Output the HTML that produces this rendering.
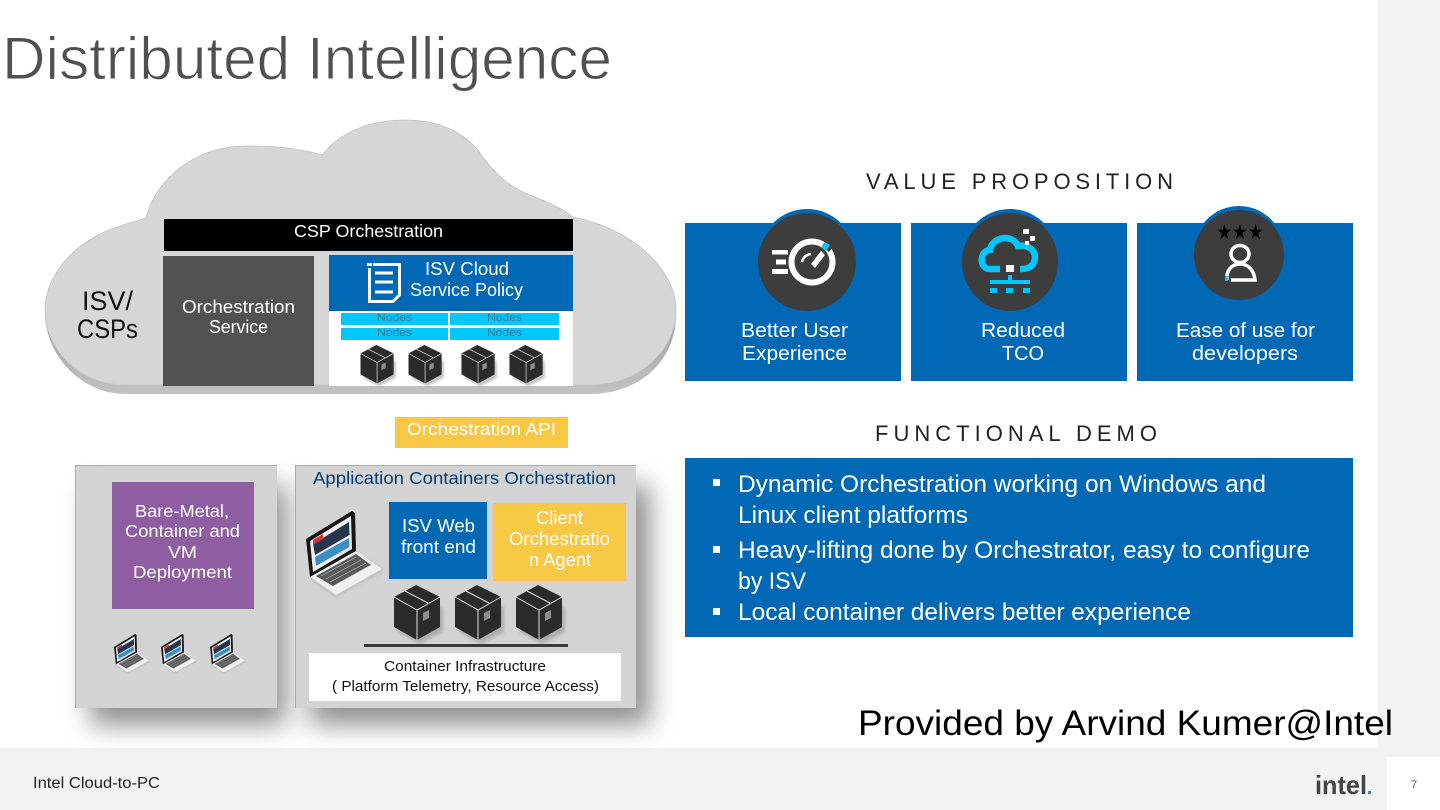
<!DOCTYPE html>
<html><head><meta charset="utf-8"><style>
html,body{margin:0;padding:0;background:#fff;width:1440px;height:810px;overflow:hidden}
svg{display:block}
text{font-family:"Liberation Sans",sans-serif}
</style></head><body>
<svg width="1440" height="810" viewBox="0 0 1440 810" xmlns="http://www.w3.org/2000/svg">
<defs>
<filter id="b" x="-40%" y="-40%" width="180%" height="180%"><feGaussianBlur stdDeviation="13"/></filter>
<filter id="s" x="-30%" y="-30%" width="160%" height="160%"><feGaussianBlur stdDeviation="1.5"/></filter>
<linearGradient id="ex" x1="0" y1="0" x2="0" y2="1"><stop offset="0" stop-color="#a0a0a0"/><stop offset="1" stop-color="#c2c2c2"/></linearGradient>
<g id="cube">
<path d="M3 17 23 27 43 17 46 20V44L23 56 1 44V20Z" fill="#888" opacity=".5" transform="translate(3 3)" filter="url(#s)"/>
<path d="M22 0 46 12V42L23 55 0 42V12Z" fill="#2b2b2b"/>
<path d="M0 12 23 25 46 12M23 25V55M11 6 34 18" fill="none" stroke="#e0e0e0" stroke-width="1"/>
<path d="M29 28 35 25V33L29 36Z" fill="#8e8e8e"/>
</g>
<g id="laptop">
<path d="M8 70 60 48 78 60 30 84Z" fill="#aaa" opacity=".7" filter="url(#s)"/>
<path d="M0 28 46 0 49 2 50 40 4 66Z" fill="#161616"/>
<path d="M4 30 45 5 46 38 7 61Z" fill="#efefef"/>
<path d="M7 33 43 11 43.500 24 9 44Z" fill="#27364f"/>
<path d="M9 46 43 27 43.500 36 10 55Z" fill="#3b8fc4"/>
<path d="M7 29 17 23 17 28 7 34Z" fill="#d8352f"/>
<path d="M4 66 50 40 76 58 30 84Z" fill="#f0f0f0"/>
<path d="M10 65 50 43 65 54 27 75Z" fill="#5a5a5a"/>
<path d="M15 65 50 46M20 68 55 49M24 71 60 52M29 74 63 55" stroke="#bdbdbd" stroke-width=".7" fill="none"/>
<path d="M4 66 30 84 76 58 76 60 30 87 4 69Z" fill="#c4c4c4"/>
</g>
</defs>

<!-- sidebar & footer -->
<rect x="1378" y="0" width="62" height="810" fill="#f2f2f2"/>
<rect x="0" y="748" width="1440" height="62" fill="#f2f2f2"/>
<rect x="1387" y="757" width="53" height="53" fill="#fff"/>

<text x="2" y="79" font-size="60" fill="#505050" stroke="#fff" stroke-width="1" textLength="610" lengthAdjust="spacingAndGlyphs">Distributed Intelligence</text>

<!-- cloud -->
<path d="M45 315C47 360 85 394 125 394H590C640 394 676 360 676 315Z" fill="url(#ex)"/>
<path d="M45 310C45 275 75 240 120 226C128 223 137 221 146 218C155 180 195 146 245 146C275 146 300 148 322 155C340 132 370 120 405 120C440 120 462 132 478 150C495 175 510 188 535 197C550 203 565 210 573 217C630 228 676 268 676 310C676 350 640 385 590 385H125C80 385 45 350 45 310Z" fill="#d6d6d6" stroke="#c4c4c4" stroke-width=".8"/>

<rect x="164" y="219" width="409" height="32" fill="#000"/>
<text x="294" y="237" font-size="17.500" fill="#fff" textLength="149" lengthAdjust="spacingAndGlyphs">CSP Orchestration</text>
<rect x="163" y="256" width="151" height="130" fill="#525252"/>
<text x="182" y="313" font-size="18" fill="#fff" textLength="113" lengthAdjust="spacingAndGlyphs">Orchestration</text>
<text x="209" y="333" font-size="18" fill="#fff" textLength="59" lengthAdjust="spacingAndGlyphs">Service</text>
<text x="82" y="310" font-size="27" fill="#111" textLength="51" lengthAdjust="spacingAndGlyphs">ISV/</text>
<text x="77" y="338" font-size="27" fill="#111" textLength="61" lengthAdjust="spacingAndGlyphs">CSPs</text>

<rect x="329" y="255" width="244" height="56" fill="#0068b5"/>
<rect x="329" y="311" width="244" height="75" fill="#fff"/>
<path d="M369.500 268V301.500H393L399.500 295V264.500H373" fill="none" stroke="#fff" stroke-width="3"/>
<path d="M367 263h5v3h-5zM375 271.500h18v3h-18zM375 280.500h18v3h-18zM375 290.500h18v3h-18z" fill="#fff"/>
<text x="425" y="275" font-size="18" fill="#fff" textLength="84" lengthAdjust="spacingAndGlyphs">ISV  Cloud</text>
<text x="410" y="296" font-size="18" fill="#fff" textLength="113" lengthAdjust="spacingAndGlyphs">Service Policy</text>
<g fill="#00c7fd">
<rect x="341" y="313" width="107" height="12"/><rect x="450" y="313" width="109" height="12"/>
<rect x="341" y="328" width="107" height="12"/><rect x="450" y="328" width="109" height="12"/>
</g>
<g font-size="11" fill="#3c7a90">
<text x="377" y="321" textLength="35" lengthAdjust="spacingAndGlyphs">Nodes</text>
<text x="487" y="321" textLength="35" lengthAdjust="spacingAndGlyphs">Nodes</text>
<text x="377" y="336" textLength="35" lengthAdjust="spacingAndGlyphs">Nodes</text>
<text x="487" y="336" textLength="35" lengthAdjust="spacingAndGlyphs">Nodes</text>
</g>
<use href="#cube" transform="translate(360.500 345) scale(.72 .7)"/>
<use href="#cube" transform="translate(408.500 345) scale(.72 .7)"/>
<use href="#cube" transform="translate(461.500 345) scale(.72 .7)"/>
<use href="#cube" transform="translate(509.500 345) scale(.72 .7)"/>

<!-- API -->
<rect x="395" y="417" width="173" height="31" fill="#f6c844"/>
<text x="407" y="435" font-size="17.500" fill="#fff" textLength="149" lengthAdjust="spacingAndGlyphs">Orchestration  API</text>

<!-- panels -->
<rect x="90" y="485" width="196" height="240" fill="#444" opacity=".6" filter="url(#b)"/>
<rect x="310" y="485" width="340" height="240" fill="#444" opacity=".6" filter="url(#b)"/>
<rect x="75" y="465" width="202" height="243" fill="#d3d3d3"/>
<rect x="295" y="465" width="341" height="243" fill="#d3d3d3"/>
<path d="M75.500 708V465.500H277M295.500 708V465.500H636" fill="none" stroke="#aaa" stroke-width="1"/>

<rect x="112" y="482" width="142" height="127" fill="#8f5da2"/>
<g font-size="17.500" fill="#fff">
<text x="135" y="517" textLength="94" lengthAdjust="spacingAndGlyphs">Bare-Metal,</text>
<text x="125" y="537" textLength="115" lengthAdjust="spacingAndGlyphs">Container and</text>
<text x="168" y="558" textLength="29" lengthAdjust="spacingAndGlyphs">VM</text>
<text x="133" y="578" textLength="99" lengthAdjust="spacingAndGlyphs">Deployment</text>
</g>
<use href="#laptop" transform="translate(114 634) scale(.46 .46)"/>
<use href="#laptop" transform="translate(161 634) scale(.46 .46)"/>
<use href="#laptop" transform="translate(210 634) scale(.46 .46)"/>

<text x="313" y="484" font-size="17.500" fill="#003c71" textLength="303" lengthAdjust="spacingAndGlyphs">Application Containers Orchestration</text>
<use href="#laptop" transform="translate(306 511)"/>
<rect x="389" y="502" width="98" height="77" fill="#0068b5"/>
<text x="402" y="532" font-size="18" fill="#fff" textLength="73" lengthAdjust="spacingAndGlyphs">ISV  Web</text>
<text x="401" y="553" font-size="18" fill="#fff" textLength="75" lengthAdjust="spacingAndGlyphs">front end</text>
<rect x="493" y="503" width="133" height="78" fill="#f6c844"/>
<g font-size="18" fill="#fff">
<text x="536" y="524" textLength="47" lengthAdjust="spacingAndGlyphs">Client</text>
<text x="509" y="545" textLength="101" lengthAdjust="spacingAndGlyphs">Orchestratio</text>
<text x="529" y="566" textLength="62" lengthAdjust="spacingAndGlyphs">n Agent</text>
</g>
<use href="#cube" transform="translate(394 585)"/>
<use href="#cube" transform="translate(455 585)"/>
<use href="#cube" transform="translate(516 585)"/>
<rect x="364" y="644" width="204" height="3" fill="#3a3a3a"/>
<rect x="309" y="653" width="312" height="48" fill="#fff"/>
<text x="384" y="671" font-size="15" fill="#111" textLength="162" lengthAdjust="spacingAndGlyphs">Container Infrastructure</text>
<text x="332" y="691" font-size="15" fill="#111" textLength="267" lengthAdjust="spacingAndGlyphs">( Platform Telemetry,  Resource Access)</text>

<!-- right -->
<text x="866" y="189" font-size="22" fill="#222" textLength="307" lengthAdjust="spacing">VALUE PROPOSITION</text>
<text x="875" y="441" font-size="22" fill="#222" textLength="282" lengthAdjust="spacing">FUNCTIONAL DEMO</text>

<ellipse cx="807" cy="257" rx="48" ry="48" fill="#0068b5"/>
<ellipse cx="1010" cy="257" rx="48" ry="48" fill="#0068b5"/>
<ellipse cx="1239" cy="251" rx="45" ry="45" fill="#0068b5"/>
<rect x="685" y="223" width="216" height="158" fill="#0068b5"/>
<rect x="911" y="223" width="216" height="158" fill="#0068b5"/>
<rect x="1137" y="223" width="216" height="158" fill="#0068b5"/>
<ellipse cx="807" cy="262" rx="49" ry="49" fill="#3d3d3d"/>
<ellipse cx="1010" cy="262" rx="48" ry="49" fill="#3d3d3d"/>
<ellipse cx="1239" cy="255" rx="45" ry="45" fill="#3d3d3d"/>

<!-- gauge icon -->
<g>
<circle cx="812" cy="262" r="20.500" fill="none" stroke="#fff" stroke-width="6"/>
<path d="M772 250h16v4.500h-16zM776 259.500h10v5h-10zM772 269h16v5h-16z" fill="#fff"/>
<path d="M802 262a10 10 0 0 1 9-8" fill="none" stroke="#fff" stroke-width="2.500"/>
<path d="M811 264 821 251 825 255 815 268Z" fill="#fff"/>
<path d="M822 246 829 236 837 241 829 252Z" fill="#3d3d3d"/>
<path d="M825 242 830 245 826 251 822 247Z" fill="#00c7fd"/>
</g>
<!-- cloud icon -->
<g>
<path d="M1000 269H990C979 269 979 251 990 250C992 237 1012 233 1018 246C1030 244 1038 253 1034 262C1032 267 1028 269 1020 269" fill="none" stroke="#00c7fd" stroke-width="6.500"/>
<rect x="1006" y="265" width="8" height="7" fill="#fff"/>
<path d="M1023 229h6v5h-6zM1030 236h5v5h-5zM1025 241h4v4h-4z" fill="#fff"/>
<rect x="1008" y="275" width="4" height="6" fill="#00c7fd"/>
<rect x="990" y="280" width="40" height="4" fill="#00c7fd"/>
<path d="M990 288h7v5h-7zM1006 288h7v5h-7zM1023 288h7v5h-7z" fill="#00c7fd"/>
</g>
<!-- person icon -->
<g>
<text x="1240" y="239" font-size="21" fill="#000" text-anchor="middle" textLength="47" lengthAdjust="spacingAndGlyphs" style="font-family:'DejaVu Sans',sans-serif">★★★</text>
<ellipse cx="1240" cy="254" rx="9" ry="8.500" fill="none" stroke="#fff" stroke-width="3.500"/>
<path d="M1227 280C1226 270 1232 264 1240 264C1248 264 1254 270 1255 280H1231" fill="none" stroke="#fff" stroke-width="3.500"/>
<rect x="1225" y="276" width="3" height="5" fill="#00c7fd"/>
</g>

<g font-size="20.500" fill="#fff">
<text x="741" y="337" textLength="107" lengthAdjust="spacingAndGlyphs">Better User</text>
<text x="742" y="360" textLength="105" lengthAdjust="spacingAndGlyphs">Experience</text>
<text x="981" y="337" textLength="84" lengthAdjust="spacingAndGlyphs">Reduced</text>
<text x="1002" y="360" textLength="42" lengthAdjust="spacingAndGlyphs">TCO</text>
<text x="1176" y="337" textLength="139" lengthAdjust="spacingAndGlyphs">Ease of use for</text>
<text x="1192" y="360" textLength="106" lengthAdjust="spacingAndGlyphs">developers</text>
</g>

<rect x="685" y="458" width="668" height="179" fill="#0068b5"/>
<g fill="#fff">
<rect x="713" y="479" width="7" height="7"/>
<rect x="713" y="546" width="7" height="7"/>
<rect x="713" y="608" width="7" height="7"/>
</g>
<g font-size="24.500" fill="#fff">
<text x="738" y="492" textLength="528" lengthAdjust="spacingAndGlyphs">Dynamic Orchestration working on Windows and</text>
<text x="738" y="523" textLength="230" lengthAdjust="spacingAndGlyphs">Linux client platforms</text>
<text x="738" y="558" textLength="572" lengthAdjust="spacingAndGlyphs">Heavy-lifting done by Orchestrator, easy to configure</text>
<text x="738" y="589" textLength="68" lengthAdjust="spacingAndGlyphs">by ISV</text>
<text x="738" y="620" textLength="453" lengthAdjust="spacingAndGlyphs">Local container delivers better experience</text>
</g>

<text x="858" y="735" font-size="35" fill="#000" textLength="535" lengthAdjust="spacingAndGlyphs">Provided by Arvind Kumer@Intel</text>

<text x="33" y="788" font-size="15.500" fill="#222" textLength="127" lengthAdjust="spacingAndGlyphs">Intel Cloud-to-PC</text>
<text x="1315" y="794" font-size="26" font-weight="bold" fill="#444" textLength="52" lengthAdjust="spacingAndGlyphs">intel</text>
<rect x="1368" y="791" width="3" height="3" fill="#5b7f9c"/>
<text x="1411" y="788" font-size="11" fill="#555">7</text>
</svg>
</body></html>
